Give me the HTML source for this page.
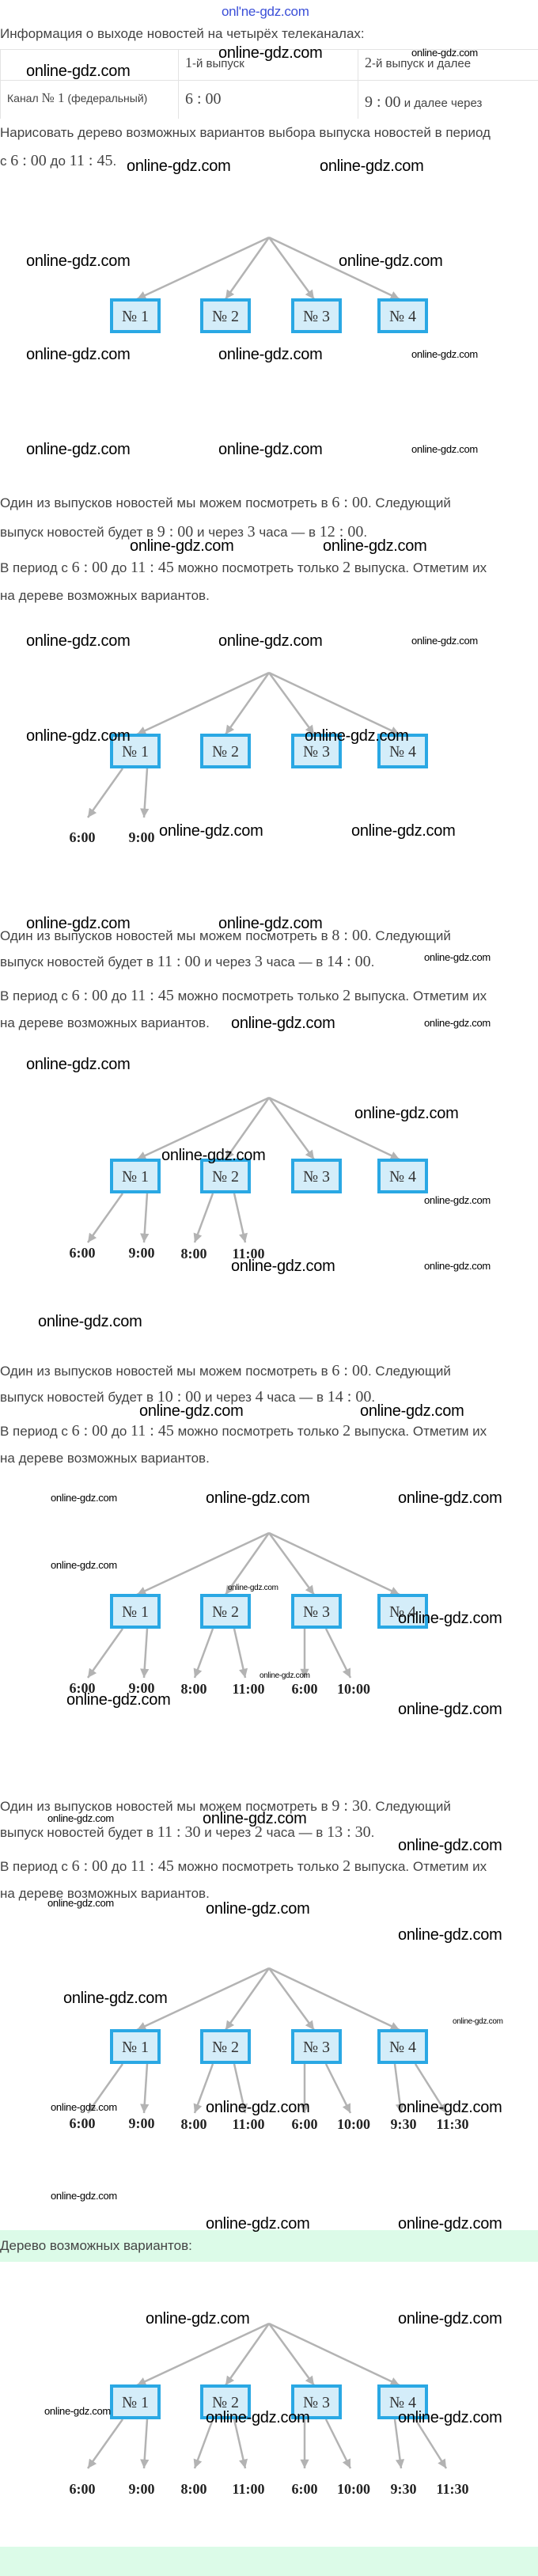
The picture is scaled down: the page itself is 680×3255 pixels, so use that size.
<!DOCTYPE html>
<html><head><meta charset="utf-8">
<style>
html,body{margin:0;padding:0;background:#fff;}
body{width:680px;height:3255px;position:relative;overflow:hidden;font-family:"Liberation Sans","DejaVu Sans",sans-serif;}
.t{position:absolute;left:0;white-space:nowrap;font-size:17px;line-height:22px;color:#444;}
.m{font-family:"Liberation Serif",serif;font-size:20px;color:#444;}
.w{position:absolute;white-space:nowrap;font-family:"Liberation Sans",sans-serif;font-size:20px;line-height:24px;color:#000;letter-spacing:-0.3px;}
.s{font-size:13px;line-height:16px;}
.x{font-size:10px;line-height:12px;}
.band{position:absolute;left:0;width:680px;background:#dcfbe8;}
.tw{position:absolute;left:0;top:62px;width:680px;height:88px;overflow:hidden;}
table{position:absolute;left:0;top:0;border-collapse:collapse;table-layout:fixed;width:690px;}
td{border:1px solid #e3e3e3;vertical-align:top;padding:6px 8px;font-size:15px;color:#444;height:26px;}
svg{position:absolute;left:0;}
</style></head><body>

<div class="w" style="left:280px;top:3px;color:#3b4fd8;font-size:17px;">onl'ne-gdz.com</div>

<div class="t" style="top:32px;">Информация о выходе новостей на четырёх телеканалах:</div>

<div class="tw"><table>
<colgroup><col style="width:225px"><col style="width:227px"><col style="width:238px"></colgroup>
<tr><td></td><td><span class="m" style="font-size:18px">1</span>-й выпуск</td><td><span class="m" style="font-size:18px">2</span>-й выпуск и далее</td></tr>
<tr><td style="font-size:14px;padding-top:12px;">Канал <span class="m" style="font-size:17px">№ 1</span> (федеральный)</td><td style="padding-top:12px;"><span class="m">6 : 00</span></td><td style="padding-top:12px;line-height:30px;"><span class="m">9 : 00</span> и далее через<br>каждые <span class="m">3</span> часа</td></tr>
</table></div>

<div class="t" style="top:157px;">Нарисовать дерево возможных вариантов выбора выпуска новостей в период</div>
<div class="t" style="top:192px;">с <span class="m">6 : 00</span> до <span class="m">11 : 45</span>.</div>

<div class="t" style="top:624px;">Один из выпусков новостей мы можем посмотреть в <span class="m">6 : 00</span>. Следующий</div>
<div class="t" style="top:661px;">выпуск новостей будет в <span class="m">9 : 00</span> и через <span class="m">3</span> часа — в <span class="m">12 : 00</span>.</div>
<div class="t" style="top:706px;">В период с <span class="m">6 : 00</span> до <span class="m">11 : 45</span> можно посмотреть только <span class="m">2</span> выпуска. Отметим их</div>
<div class="t" style="top:742px;">на дереве возможных вариантов.</div>

<div class="t" style="top:1171px;">Один из выпусков новостей мы можем посмотреть в <span class="m">8 : 00</span>. Следующий</div>
<div class="t" style="top:1204px;">выпуск новостей будет в <span class="m">11 : 00</span> и через <span class="m">3</span> часа — в <span class="m">14 : 00</span>.</div>
<div class="t" style="top:1247px;">В период с <span class="m">6 : 00</span> до <span class="m">11 : 45</span> можно посмотреть только <span class="m">2</span> выпуска. Отметим их</div>
<div class="t" style="top:1282px;">на дереве возможных вариантов.</div>

<div class="t" style="top:1721px;">Один из выпусков новостей мы можем посмотреть в <span class="m">6 : 00</span>. Следующий</div>
<div class="t" style="top:1754px;">выпуск новостей будет в <span class="m">10 : 00</span> и через <span class="m">4</span> часа — в <span class="m">14 : 00</span>.</div>
<div class="t" style="top:1797px;">В период с <span class="m">6 : 00</span> до <span class="m">11 : 45</span> можно посмотреть только <span class="m">2</span> выпуска. Отметим их</div>
<div class="t" style="top:1832px;">на дереве возможных вариантов.</div>

<div class="t" style="top:2271px;">Один из выпусков новостей мы можем посмотреть в <span class="m">9 : 30</span>. Следующий</div>
<div class="t" style="top:2304px;">выпуск новостей будет в <span class="m">11 : 30</span> и через <span class="m">2</span> часа — в <span class="m">13 : 30</span>.</div>
<div class="t" style="top:2347px;">В период с <span class="m">6 : 00</span> до <span class="m">11 : 45</span> можно посмотреть только <span class="m">2</span> выпуска. Отметим их</div>
<div class="t" style="top:2382px;">на дереве возможных вариантов.</div>

<div class="band" style="top:2818px;height:40px;"></div>
<div class="t" style="top:2827px;">Дерево возможных вариантов:</div>
<div class="band" style="top:3218px;height:37px;"></div>

<svg width="680" height="3255" viewBox="0 0 680 3255" style="top:0;">
<defs>
<marker id="a" viewBox="0 0 10 10" refX="10" refY="5" markerWidth="5" markerHeight="4.5" orient="auto" markerUnits="strokeWidth"><path d="M0,0 L10,5 L0,10 z" fill="#b3b3b3"/></marker>
</defs>

<g transform="translate(0,300)">
<g stroke="#b3b3b3" stroke-width="2.5" marker-end="url(#a)">
<line x1="340" y1="0" x2="173" y2="78"/><line x1="340" y1="0" x2="285" y2="78"/><line x1="340" y1="0" x2="397" y2="78"/><line x1="340" y1="0" x2="505" y2="78"/>
</g>
<g fill="#d4edf9" stroke="#2aa8e4" stroke-width="4"><rect x="141" y="79" width="60" height="40"/><rect x="255" y="79" width="60" height="40"/><rect x="370" y="79" width="60" height="40"/><rect x="479" y="79" width="60" height="40"/></g>
<g font-family="Liberation Serif,serif" font-size="20" fill="#333" text-anchor="middle"><text x="171" y="106">№ 1</text><text x="285" y="106">№ 2</text><text x="400" y="106">№ 3</text><text x="509" y="106">№ 4</text></g>
</g>

<g transform="translate(0,850)">
<g stroke="#b3b3b3" stroke-width="2.5" marker-end="url(#a)">
<line x1="340" y1="0" x2="173" y2="78"/><line x1="340" y1="0" x2="285" y2="78"/><line x1="340" y1="0" x2="397" y2="78"/><line x1="340" y1="0" x2="505" y2="78"/>
<line x1="155" y1="121" x2="111" y2="183"/><line x1="186" y1="121" x2="182" y2="183"/>
</g>
<g fill="#d4edf9" stroke="#2aa8e4" stroke-width="4"><rect x="141" y="79" width="60" height="40"/><rect x="255" y="79" width="60" height="40"/><rect x="370" y="79" width="60" height="40"/><rect x="479" y="79" width="60" height="40"/></g>
<g font-family="Liberation Serif,serif" font-size="20" fill="#333" text-anchor="middle"><text x="171" y="106">№ 1</text><text x="285" y="106">№ 2</text><text x="400" y="106">№ 3</text><text x="509" y="106">№ 4</text></g>
<g font-family="Liberation Serif,serif" font-size="18" font-weight="bold" fill="#222" text-anchor="middle"><text x="104" y="214">6:00</text><text x="179" y="214">9:00</text></g>
</g>

<g transform="translate(0,1387)">
<g stroke="#b3b3b3" stroke-width="2.5" marker-end="url(#a)">
<line x1="340" y1="0" x2="173" y2="78"/><line x1="340" y1="0" x2="285" y2="78"/><line x1="340" y1="0" x2="397" y2="78"/><line x1="340" y1="0" x2="505" y2="78"/>
<line x1="155" y1="121" x2="111" y2="183"/><line x1="186" y1="121" x2="182" y2="183"/>
<line x1="269" y1="121" x2="246" y2="183"/><line x1="296" y1="121" x2="310" y2="183"/>
</g>
<g fill="#d4edf9" stroke="#2aa8e4" stroke-width="4"><rect x="141" y="79" width="60" height="40"/><rect x="255" y="79" width="60" height="40"/><rect x="370" y="79" width="60" height="40"/><rect x="479" y="79" width="60" height="40"/></g>
<g font-family="Liberation Serif,serif" font-size="20" fill="#333" text-anchor="middle"><text x="171" y="106">№ 1</text><text x="285" y="106">№ 2</text><text x="400" y="106">№ 3</text><text x="509" y="106">№ 4</text></g>
<g font-family="Liberation Serif,serif" font-size="18" font-weight="bold" fill="#222" text-anchor="middle"><text x="104" y="202">6:00</text><text x="179" y="202">9:00</text><text x="245" y="203">8:00</text><text x="314" y="203">11:00</text></g>
</g>

<g transform="translate(0,1937)">
<g stroke="#b3b3b3" stroke-width="2.5" marker-end="url(#a)">
<line x1="340" y1="0" x2="173" y2="78"/><line x1="340" y1="0" x2="285" y2="78"/><line x1="340" y1="0" x2="397" y2="78"/><line x1="340" y1="0" x2="505" y2="78"/>
<line x1="155" y1="121" x2="111" y2="183"/><line x1="186" y1="121" x2="182" y2="183"/>
<line x1="269" y1="121" x2="246" y2="183"/><line x1="296" y1="121" x2="310" y2="183"/>
<line x1="385" y1="121" x2="385" y2="183"/><line x1="412" y1="121" x2="443" y2="183"/>
</g>
<g fill="#d4edf9" stroke="#2aa8e4" stroke-width="4"><rect x="141" y="79" width="60" height="40"/><rect x="255" y="79" width="60" height="40"/><rect x="370" y="79" width="60" height="40"/><rect x="479" y="79" width="60" height="40"/></g>
<g font-family="Liberation Serif,serif" font-size="20" fill="#333" text-anchor="middle"><text x="171" y="106">№ 1</text><text x="285" y="106">№ 2</text><text x="400" y="106">№ 3</text><text x="509" y="106">№ 4</text></g>
<g font-family="Liberation Serif,serif" font-size="18" font-weight="bold" fill="#222" text-anchor="middle"><text x="104" y="202">6:00</text><text x="179" y="202">9:00</text><text x="245" y="203">8:00</text><text x="314" y="203">11:00</text><text x="385" y="203">6:00</text><text x="447" y="203">10:00</text></g>
</g>

<g transform="translate(0,2487)">
<g stroke="#b3b3b3" stroke-width="2.5" marker-end="url(#a)">
<line x1="340" y1="0" x2="173" y2="78"/><line x1="340" y1="0" x2="285" y2="78"/><line x1="340" y1="0" x2="397" y2="78"/><line x1="340" y1="0" x2="505" y2="78"/>
<line x1="155" y1="121" x2="111" y2="183"/><line x1="186" y1="121" x2="182" y2="183"/>
<line x1="269" y1="121" x2="246" y2="183"/><line x1="296" y1="121" x2="310" y2="183"/>
<line x1="385" y1="121" x2="385" y2="183"/><line x1="412" y1="121" x2="443" y2="183"/>
<line x1="499" y1="121" x2="507" y2="183"/><line x1="525" y1="121" x2="564" y2="183"/>
</g>
<g fill="#d4edf9" stroke="#2aa8e4" stroke-width="4"><rect x="141" y="79" width="60" height="40"/><rect x="255" y="79" width="60" height="40"/><rect x="370" y="79" width="60" height="40"/><rect x="479" y="79" width="60" height="40"/></g>
<g font-family="Liberation Serif,serif" font-size="20" fill="#333" text-anchor="middle"><text x="171" y="106">№ 1</text><text x="285" y="106">№ 2</text><text x="400" y="106">№ 3</text><text x="509" y="106">№ 4</text></g>
<g font-family="Liberation Serif,serif" font-size="18" font-weight="bold" fill="#222" text-anchor="middle"><text x="104" y="202">6:00</text><text x="179" y="202">9:00</text><text x="245" y="203">8:00</text><text x="314" y="203">11:00</text><text x="385" y="203">6:00</text><text x="447" y="203">10:00</text><text x="510" y="203">9:30</text><text x="572" y="203">11:30</text></g>
</g>

<g transform="translate(0,2936)">
<g stroke="#b3b3b3" stroke-width="2.5" marker-end="url(#a)">
<line x1="340" y1="0" x2="173" y2="78"/><line x1="340" y1="0" x2="285" y2="78"/><line x1="340" y1="0" x2="397" y2="78"/><line x1="340" y1="0" x2="505" y2="78"/>
<line x1="155" y1="121" x2="111" y2="183"/><line x1="186" y1="121" x2="182" y2="183"/>
<line x1="269" y1="121" x2="246" y2="183"/><line x1="296" y1="121" x2="310" y2="183"/>
<line x1="385" y1="121" x2="385" y2="183"/><line x1="412" y1="121" x2="443" y2="183"/>
<line x1="499" y1="121" x2="507" y2="183"/><line x1="525" y1="121" x2="564" y2="183"/>
</g>
<g fill="#d4edf9" stroke="#2aa8e4" stroke-width="4"><rect x="141" y="79" width="60" height="40"/><rect x="255" y="79" width="60" height="40"/><rect x="370" y="79" width="60" height="40"/><rect x="479" y="79" width="60" height="40"/></g>
<g font-family="Liberation Serif,serif" font-size="20" fill="#333" text-anchor="middle"><text x="171" y="106">№ 1</text><text x="285" y="106">№ 2</text><text x="400" y="106">№ 3</text><text x="509" y="106">№ 4</text></g>
<g font-family="Liberation Serif,serif" font-size="18" font-weight="bold" fill="#222" text-anchor="middle"><text x="104" y="215">6:00</text><text x="179" y="215">9:00</text><text x="245" y="215">8:00</text><text x="314" y="215">11:00</text><text x="385" y="215">6:00</text><text x="447" y="215">10:00</text><text x="510" y="215">9:30</text><text x="572" y="215">11:30</text></g>
</g>
</svg>

<div class="w" style="left:276px;top:55px;">online-gdz.com</div>
<div class="w s" style="left:520px;top:59px;">online-gdz.com</div>
<div class="w" style="left:33px;top:78px;">online-gdz.com</div>
<div class="w" style="left:160px;top:198px;">online-gdz.com</div>
<div class="w" style="left:404px;top:198px;">online-gdz.com</div>
<div class="w" style="left:33px;top:318px;">online-gdz.com</div>
<div class="w" style="left:428px;top:318px;">online-gdz.com</div>
<div class="w" style="left:33px;top:436px;">online-gdz.com</div>
<div class="w" style="left:276px;top:436px;">online-gdz.com</div>
<div class="w s" style="left:520px;top:440px;">online-gdz.com</div>
<div class="w" style="left:33px;top:556px;">online-gdz.com</div>
<div class="w" style="left:276px;top:556px;">online-gdz.com</div>
<div class="w s" style="left:520px;top:560px;">online-gdz.com</div>

<div class="w" style="left:164px;top:678px;">online-gdz.com</div>
<div class="w" style="left:408px;top:678px;">online-gdz.com</div>
<div class="w" style="left:33px;top:798px;">online-gdz.com</div>
<div class="w" style="left:276px;top:798px;">online-gdz.com</div>
<div class="w s" style="left:520px;top:802px;">online-gdz.com</div>
<div class="w" style="left:33px;top:918px;">online-gdz.com</div>
<div class="w" style="left:385px;top:918px;">online-gdz.com</div>
<div class="w" style="left:201px;top:1038px;">online-gdz.com</div>
<div class="w" style="left:444px;top:1038px;">online-gdz.com</div>

<div class="w" style="left:33px;top:1155px;">online-gdz.com</div>
<div class="w" style="left:276px;top:1155px;">online-gdz.com</div>
<div class="w s" style="left:536px;top:1202px;">online-gdz.com</div>
<div class="w" style="left:292px;top:1281px;">online-gdz.com</div>
<div class="w s" style="left:536px;top:1285px;">online-gdz.com</div>
<div class="w" style="left:33px;top:1333px;">online-gdz.com</div>
<div class="w" style="left:448px;top:1395px;">online-gdz.com</div>
<div class="w" style="left:204px;top:1448px;">online-gdz.com</div>
<div class="w s" style="left:536px;top:1509px;">online-gdz.com</div>
<div class="w" style="left:292px;top:1588px;">online-gdz.com</div>
<div class="w s" style="left:536px;top:1592px;">online-gdz.com</div>

<div class="w" style="left:48px;top:1658px;">online-gdz.com</div>
<div class="w" style="left:176px;top:1771px;">online-gdz.com</div>
<div class="w" style="left:455px;top:1771px;">online-gdz.com</div>
<div class="w s" style="left:64px;top:1885px;">online-gdz.com</div>
<div class="w" style="left:260px;top:1881px;">online-gdz.com</div>
<div class="w" style="left:503px;top:1881px;">online-gdz.com</div>
<div class="w s" style="left:64px;top:1970px;">online-gdz.com</div>
<div class="w x" style="left:288px;top:2001px;">online-gdz.com</div>
<div class="w" style="left:503px;top:2033px;">online-gdz.com</div>
<div class="w x" style="left:328px;top:2112px;">online-gdz.com</div>
<div class="w" style="left:84px;top:2136px;">online-gdz.com</div>
<div class="w" style="left:503px;top:2148px;">online-gdz.com</div>

<div class="w s" style="left:60px;top:2290px;">online-gdz.com</div>
<div class="w" style="left:256px;top:2286px;">online-gdz.com</div>
<div class="w" style="left:503px;top:2320px;">online-gdz.com</div>
<div class="w s" style="left:60px;top:2397px;">online-gdz.com</div>
<div class="w" style="left:260px;top:2400px;">online-gdz.com</div>
<div class="w" style="left:503px;top:2433px;">online-gdz.com</div>
<div class="w" style="left:80px;top:2513px;">online-gdz.com</div>
<div class="w x" style="left:572px;top:2549px;">online-gdz.com</div>
<div class="w s" style="left:64px;top:2655px;">online-gdz.com</div>
<div class="w" style="left:260px;top:2651px;">online-gdz.com</div>
<div class="w" style="left:503px;top:2651px;">online-gdz.com</div>

<div class="w s" style="left:64px;top:2767px;">online-gdz.com</div>
<div class="w" style="left:260px;top:2798px;">online-gdz.com</div>
<div class="w" style="left:503px;top:2798px;">online-gdz.com</div>
<div class="w" style="left:184px;top:2918px;">online-gdz.com</div>
<div class="w" style="left:503px;top:2918px;">online-gdz.com</div>
<div class="w s" style="left:56px;top:3039px;">online-gdz.com</div>
<div class="w" style="left:260px;top:3043px;">online-gdz.com</div>
<div class="w" style="left:503px;top:3043px;">online-gdz.com</div>

</body></html>
